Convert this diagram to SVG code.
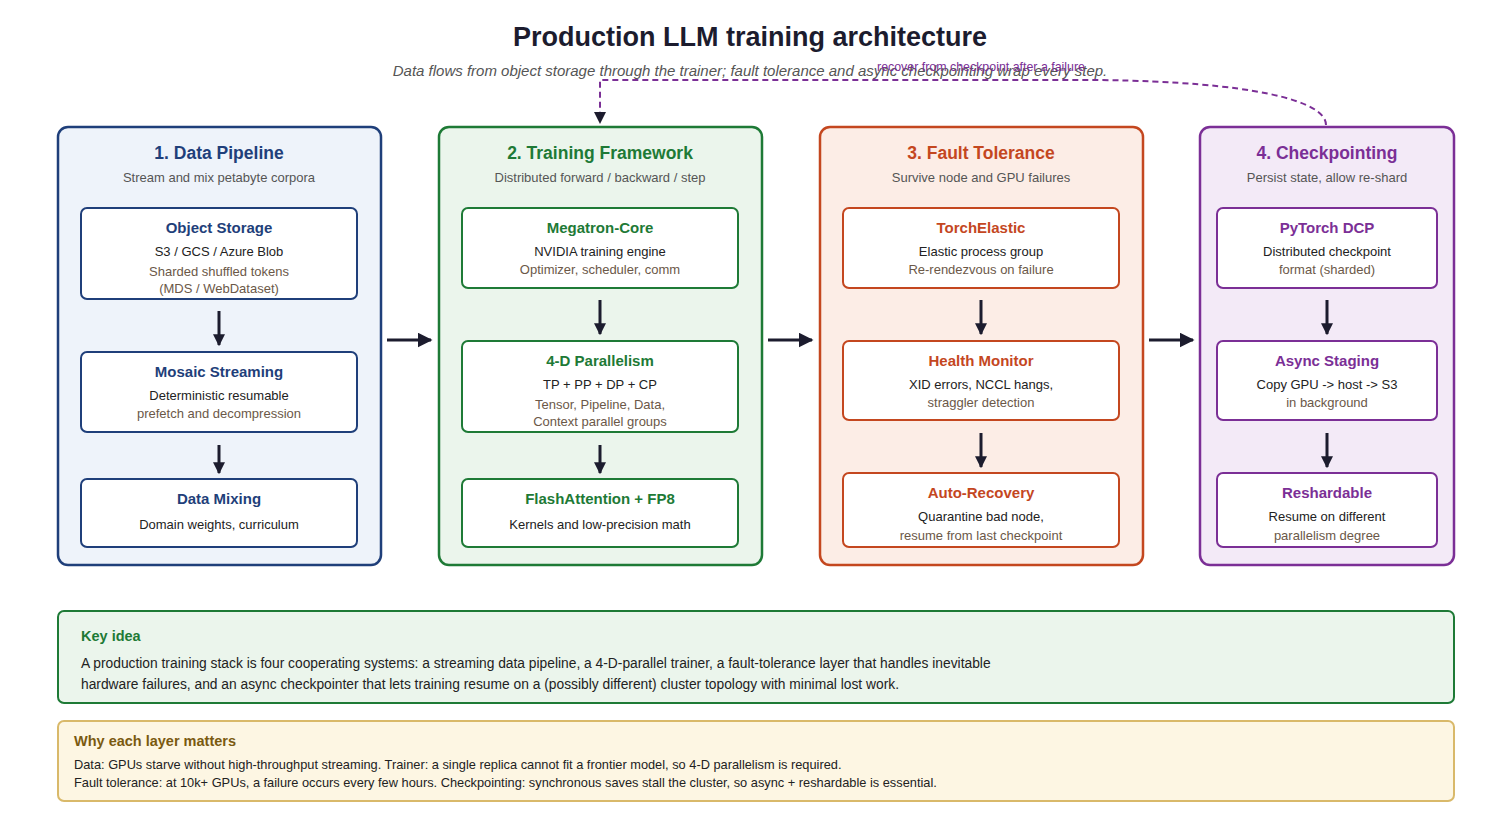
<svg xmlns="http://www.w3.org/2000/svg" width="1500" height="830" viewBox="0 0 1500 830">
<defs>
<marker id="ah" viewBox="0 0 10 10" refX="9" refY="5" markerWidth="5" markerHeight="5" orient="auto"><path d="M0,0L10,5L0,10z" fill="#1c1c2e"/></marker>
<marker id="ahs" viewBox="0 0 10 10" refX="9" refY="5" markerWidth="4" markerHeight="4" orient="auto"><path d="M0,0L10,5L0,10z" fill="#1c1c2e"/></marker>
</defs>
<style>
text{font-family:"Liberation Sans",Arial,sans-serif;text-anchor:middle}
.pt{font-size:17.5px;font-weight:bold}
.ps{font-size:13px;fill:#555}
.bt{font-size:15px;font-weight:bold}
.b1{font-size:13px;fill:#222}
.b2{font-size:13px;fill:#6b5848}
.box{fill:#fff;stroke-width:2}
.a{stroke:#1c1c2e;stroke-width:3;fill:none;marker-end:url(#ahs)}
.ab{stroke:#1c1c2e;stroke-width:3;fill:none;marker-end:url(#ah)}
</style>
<rect width="1500" height="830" fill="#fff"/>
<text x="750" y="46" font-size="27" font-weight="bold" fill="#1c1c2e">Production LLM training architecture</text>
<text x="750" y="76" font-size="15" font-style="italic" fill="#555">Data flows from object storage through the trainer; fault tolerance and async checkpointing wrap every step.</text>

<g id="p1">
<rect x="58" y="127" width="323" height="438" rx="10" fill="#eef3fa" stroke="#1f3f7a" stroke-width="2.5"/>
<text x="219" y="159" class="pt" fill="#1f3f7a">1. Data Pipeline</text>
<text x="219" y="182" class="ps">Stream and mix petabyte corpora</text>
</g>
<g id="n11"><rect x="81" y="208" width="276" height="91" rx="6" class="box" stroke="#1f3f7a"/>
<text x="219" y="233" class="bt" fill="#1f3f7a">Object Storage</text><text x="219" y="256" class="b1">S3 / GCS / Azure Blob</text><text x="219" y="276" class="b2">Sharded shuffled tokens</text><text x="219" y="293" class="b2">(MDS / WebDataset)</text></g>
<g id="n12"><rect x="81" y="352" width="276" height="80" rx="6" class="box" stroke="#1f3f7a"/>
<text x="219" y="377" class="bt" fill="#1f3f7a">Mosaic Streaming</text><text x="219" y="400" class="b1">Deterministic resumable</text><text x="219" y="418" class="b2">prefetch and decompression</text></g>
<g id="n13"><rect x="81" y="479" width="276" height="68" rx="6" class="box" stroke="#1f3f7a"/>
<text x="219" y="504" class="bt" fill="#1f3f7a">Data Mixing</text><text x="219" y="529" class="b1">Domain weights, curriculum</text></g>

<g id="p2">
<rect x="439" y="127" width="323" height="438" rx="10" fill="#ebf5ec" stroke="#1e7a36" stroke-width="2.5"/>
<text x="600" y="159" class="pt" fill="#1e7a36">2. Training Framework</text>
<text x="600" y="182" class="ps">Distributed forward / backward / step</text>
</g>
<g id="n21"><rect x="462" y="208" width="276" height="80" rx="6" class="box" stroke="#1e7a36"/>
<text x="600" y="233" class="bt" fill="#1e7a36">Megatron-Core</text><text x="600" y="256" class="b1">NVIDIA training engine</text><text x="600" y="274" class="b2">Optimizer, scheduler, comm</text></g>
<g id="n22"><rect x="462" y="341" width="276" height="91" rx="6" class="box" stroke="#1e7a36"/>
<text x="600" y="366" class="bt" fill="#1e7a36">4-D Parallelism</text><text x="600" y="389" class="b1">TP + PP + DP + CP</text><text x="600" y="409" class="b2">Tensor, Pipeline, Data,</text><text x="600" y="426" class="b2">Context parallel groups</text></g>
<g id="n23"><rect x="462" y="479" width="276" height="68" rx="6" class="box" stroke="#1e7a36"/>
<text x="600" y="504" class="bt" fill="#1e7a36">FlashAttention + FP8</text><text x="600" y="529" class="b1">Kernels and low-precision math</text></g>

<g id="p3">
<rect x="820" y="127" width="323" height="438" rx="10" fill="#fcede6" stroke="#c4471f" stroke-width="2.5"/>
<text x="981" y="159" class="pt" fill="#c4471f">3. Fault Tolerance</text>
<text x="981" y="182" class="ps">Survive node and GPU failures</text>
</g>
<g id="n31"><rect x="843" y="208" width="276" height="80" rx="6" class="box" stroke="#c4471f"/>
<text x="981" y="233" class="bt" fill="#c4471f">TorchElastic</text><text x="981" y="256" class="b1">Elastic process group</text><text x="981" y="274" class="b2">Re-rendezvous on failure</text></g>
<g id="n32"><rect x="843" y="341" width="276" height="79" rx="6" class="box" stroke="#c4471f"/>
<text x="981" y="366" class="bt" fill="#c4471f">Health Monitor</text><text x="981" y="389" class="b1">XID errors, NCCL hangs,</text><text x="981" y="407" class="b2">straggler detection</text></g>
<g id="n33"><rect x="843" y="473" width="276" height="74" rx="6" class="box" stroke="#c4471f"/>
<text x="981" y="498" class="bt" fill="#c4471f">Auto-Recovery</text><text x="981" y="521" class="b1">Quarantine bad node,</text><text x="981" y="540" class="b2">resume from last checkpoint</text></g>

<g id="p4">
<rect x="1200" y="127" width="254" height="438" rx="10" fill="#f3eaf7" stroke="#7b2f96" stroke-width="2.5"/>
<text x="1327" y="159" class="pt" fill="#7b2f96">4. Checkpointing</text>
<text x="1327" y="182" class="ps">Persist state, allow re-shard</text>
</g>
<g id="n41"><rect x="1217" y="208" width="220" height="80" rx="6" class="box" stroke="#7b2f96"/>
<text x="1327" y="233" class="bt" fill="#7b2f96">PyTorch DCP</text><text x="1327" y="256" class="b1">Distributed checkpoint</text><text x="1327" y="274" class="b2">format (sharded)</text></g>
<g id="n42"><rect x="1217" y="341" width="220" height="79" rx="6" class="box" stroke="#7b2f96"/>
<text x="1327" y="366" class="bt" fill="#7b2f96">Async Staging</text><text x="1327" y="389" class="b1">Copy GPU -&gt; host -&gt; S3</text><text x="1327" y="407" class="b2">in background</text></g>
<g id="n43"><rect x="1217" y="473" width="220" height="74" rx="6" class="box" stroke="#7b2f96"/>
<text x="1327" y="498" class="bt" fill="#7b2f96">Reshardable</text><text x="1327" y="521" class="b1">Resume on different</text><text x="1327" y="540" class="b2">parallelism degree</text></g>

<g id="connectors">
<path d="M219,311V345" class="a"/><path d="M219,445V473" class="a"/>
<path d="M600,300V334" class="a"/><path d="M600,445V473" class="a"/>
<path d="M981,300V334" class="a"/><path d="M981,433V467" class="a"/>
<path d="M1327,300V334" class="a"/><path d="M1327,433V467" class="a"/>
<path d="M387,340H431" class="ab"/><path d="M768,340H812" class="ab"/><path d="M1149,340H1193" class="ab"/>
<path d="M1326,125C1326,100 1250,82 1100,80L600,80V118" fill="none" stroke="#7b2f96" stroke-width="2" stroke-dasharray="6,4"/>
<path d="M594,112L606,112L600,124z" fill="#1c1c2e"/>
<text x="981" y="71" font-size="12.4" fill="#7b2f96">recover from checkpoint after a failure</text>
</g>

<g id="key">
<rect x="58" y="611" width="1396" height="92" rx="6" fill="#ebf5ec" stroke="#1e7a36" stroke-width="2"/>
<text x="81" y="641" font-size="14.5" font-weight="bold" fill="#1e7a36" style="text-anchor:start">Key idea</text>
<text x="81" y="668" font-size="13.8" fill="#222" style="text-anchor:start">A production training stack is four cooperating systems: a streaming data pipeline, a 4-D-parallel trainer, a fault-tolerance layer that handles inevitable</text>
<text x="81" y="689" font-size="13.8" fill="#222" style="text-anchor:start">hardware failures, and an async checkpointer that lets training resume on a (possibly different) cluster topology with minimal lost work.</text>
</g>
<g id="why">
<rect x="58" y="721" width="1396" height="80" rx="6" fill="#fdf6e3" stroke="#d9b96a" stroke-width="2"/>
<text x="74" y="746" font-size="14.5" font-weight="bold" fill="#7a5a10" style="text-anchor:start">Why each layer matters</text>
<text x="74" y="769" font-size="12.8" fill="#222" style="text-anchor:start">Data: GPUs starve without high-throughput streaming. Trainer: a single replica cannot fit a frontier model, so 4-D parallelism is required.</text>
<text x="74" y="787" font-size="12.8" fill="#222" style="text-anchor:start">Fault tolerance: at 10k+ GPUs, a failure occurs every few hours. Checkpointing: synchronous saves stall the cluster, so async + reshardable is essential.</text>
</g>
</svg>
